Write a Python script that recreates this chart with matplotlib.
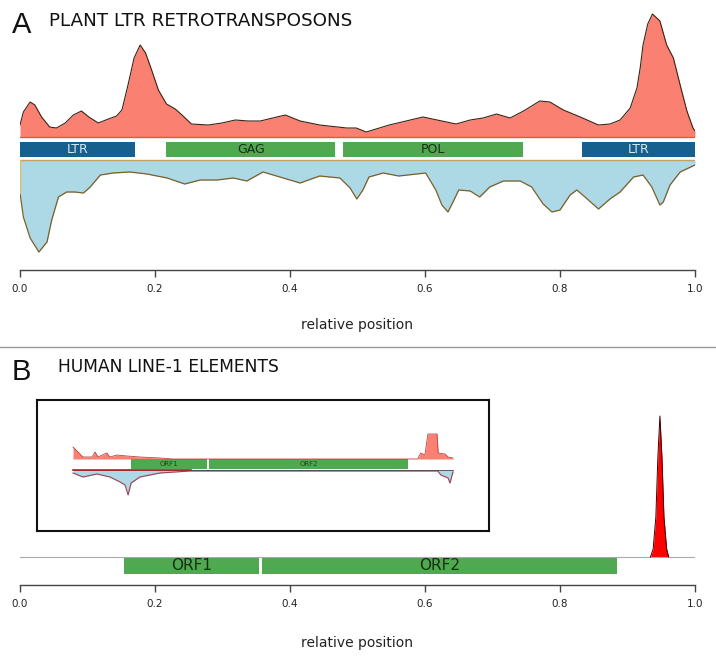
import matplotlib.pyplot as plt
from matplotlib.lines import Line2D

# panel A: density above (salmon) and below (light blue) the gene track
top_x = [0.000, 0.005, 0.015, 0.022, 0.032, 0.044, 0.054, 0.067, 0.079, 0.091,
         0.102, 0.116, 0.131, 0.143, 0.151, 0.160, 0.169, 0.178, 0.186, 0.195,
         0.205, 0.217, 0.230, 0.240, 0.254, 0.279, 0.299, 0.319, 0.338, 0.356,
         0.393, 0.415, 0.444, 0.484, 0.498, 0.513, 0.547, 0.597, 0.646, 0.667,
         0.686, 0.706, 0.726, 0.746, 0.770, 0.785, 0.805, 0.830, 0.857, 0.874,
         0.889, 0.904, 0.914, 0.919, 0.923, 0.930, 0.937, 0.948, 0.958, 0.968,
         0.978, 0.988, 0.997, 1.000]
top_y = [12, 25, 35, 32, 20, 10, 9, 14, 22, 26,
         20, 14, 18, 21, 27, 52, 79, 92, 84, 67,
         47, 33, 28, 22, 13, 12, 14, 17, 16, 16,
         22, 16, 12, 9, 9, 5, 12, 20, 13, 17,
         19, 23, 19, 26, 36, 35, 27, 20, 12, 13,
         17, 29, 49, 70, 92, 113, 123, 116, 92, 79,
         52, 26, 9, 6]

bot_x = [0.000, 0.005, 0.015, 0.028, 0.040, 0.047, 0.057, 0.069, 0.081, 0.094,
         0.104, 0.119, 0.138, 0.163, 0.188, 0.218, 0.244, 0.267, 0.292, 0.316,
         0.336, 0.360, 0.390, 0.415, 0.444, 0.474, 0.489, 0.499, 0.508, 0.517,
         0.538, 0.561, 0.601, 0.616, 0.625, 0.634, 0.643, 0.650, 0.667, 0.681,
         0.696, 0.716, 0.741, 0.758, 0.775, 0.788, 0.800, 0.815, 0.825, 0.837,
         0.857, 0.874, 0.889, 0.909, 0.923, 0.936, 0.948, 0.953, 0.963, 0.978,
         1.000]
bot_y = [33, 57, 78, 92, 82, 60, 37, 32, 32, 33,
         27, 15, 13, 12, 14, 18, 24, 20, 20, 18,
         21, 12, 18, 23, 16, 18, 28, 39, 30, 17,
         13, 16, 13, 30, 45, 52, 40, 30, 31, 37,
         27, 21, 21, 27, 44, 52, 50, 35, 30, 37,
         49, 39, 32, 17, 15, 27, 45, 42, 25, 12,
         5]

a_names = ['LTR', 'GAG', 'POL', 'LTR']
a_start = [0.000, 0.217, 0.478, 0.833]
a_end = [0.170, 0.467, 0.745, 1.000]

# panel B: main density (single spike) and ORFs
b_x = [0.000, 0.934, 0.938, 0.942, 0.945, 0.948, 0.951, 0.954, 0.958, 0.961, 1.000]
b_y = [0, 0, 8, 40, 100, 141, 100, 40, 8, 0, 0]
b_names = ['ORF1', 'ORF2']
b_start = [0.154, 0.359]
b_end = [0.354, 0.884]

# small inset plot in panel B
ins_top_x = [0.000, 0.008, 0.026, 0.050, 0.058, 0.066, 0.089, 0.097, 0.116, 0.142,
             0.176, 0.229, 0.263, 0.907, 0.915, 0.926, 0.934, 0.958, 0.961, 0.979,
             0.987, 1.000]
ins_top_y = [12, 9, 2, 2, 7, 2, 6, 2, 4, 3,
             2, 1, 0, 0, 6, 4, 25, 25, 6, 5,
             2, 1]
ins_bot_x = [0.000, 0.026, 0.063, 0.097, 0.124, 0.137, 0.145, 0.153, 0.176, 0.229,
             0.308, 0.960, 0.968, 0.987, 0.992, 1.000]
ins_bot_y = [3, 7, 4, 7, 12, 15, 25, 13, 7, 3,
             1, 1, 5, 8, 13, 2]
ins_names = ['ORF1', 'ORF2']
ins_start = [0.153, 0.358]
ins_end = [0.353, 0.882]

salmon = '#fa8072'
lightblue = '#add8e6'
blue = '#16608f'
green = '#50a850'

W, H = 716, 666
fig = plt.figure(figsize=(W / 100, H / 100), dpi=100)


def fy(py):
    return 1 - py / H


def style_axis(ax):
    for s in ['top', 'left', 'right']:
        ax.spines[s].set_visible(False)
    ax.spines['bottom'].set_color('#444444')
    ax.spines['bottom'].set_linewidth(1.0)
    ax.set_yticks([])
    ax.set_xlim(0, 1)
    ax.set_xticks([0, 0.2, 0.4, 0.6, 0.8, 1.0])
    ax.set_xticklabels(['0.0', '0.2', '0.4', '0.6', '0.8', '1.0'])
    ax.tick_params(axis='x', direction='out', length=5, width=1,
                   color='#444444', labelsize=7.5, labelcolor='#222222', pad=5)


# ---- panel A ----
axA = fig.add_axes([20 / W, fy(270), 675 / W, fy(5) - fy(270)])
style_axis(axA)
axA.set_ylim(-133, 132)
axA.fill_between(top_x, 0, top_y, color=salmon, lw=0)
axA.plot(top_x, top_y, color='#3a2418', lw=0.8)
axA.axhline(0, color='#d8602a', lw=1.0)
low = [-23 - v for v in bot_y]
axA.fill_between(bot_x, -23, low, color=lightblue, lw=0)
axA.plot(bot_x, low, color='#7a6028', lw=0.9)
axA.axhline(-23, color='#c8a060', lw=1.0)
axA.plot([0, 0], [-23, low[0]], color='#d8c060', lw=1.0)
for name, s, e in zip(a_names, a_start, a_end):
    col = blue if name == 'LTR' else green
    axA.bar((s + e) / 2, 15, width=e - s, bottom=-20, color=col, lw=0)
    tc = '#dce8f2' if name == 'LTR' else '#173017'
    axA.text((s + e) / 2, -12.5, name, ha='center', va='center',
             fontsize=9, color=tc)

fig.text(12 / W, fy(25), 'A', fontsize=21, family='Liberation Sans',
         va='center', ha='left', color='#111111')
fig.text(49 / W, fy(21), 'PLANT LTR RETROTRANSPOSONS', fontsize=13.2,
         va='center', ha='left', color='#111111')
fig.text(357 / W, fy(325), 'relative position', fontsize=10,
         ha='center', va='center', color='#222222')

# separator
fig.add_artist(Line2D([0, 1], [fy(347), fy(347)], color='#999999', lw=1.0,
                      transform=fig.transFigure))

# ---- panel B ----
axB = fig.add_axes([20 / W, fy(585), 675 / W, fy(405) - fy(585)])
style_axis(axB)
axB.set_ylim(-28, 152)
axB.plot([0, 1], [0, 0], color='#aaaaaa', lw=0.8)
axB.fill_between(b_x, 0, b_y, color='#ff0000', lw=0)
axB.plot(b_x[1:-1], b_y[1:-1], color='#3a0000', lw=0.7)
for name, s, e in zip(b_names, b_start, b_end):
    axB.bar((s + e) / 2, 16, width=e - s, bottom=-17, color=green, lw=0)
    axB.text((s + e) / 2, -9, name, ha='center', va='center',
             fontsize=11, color='#173017')

fig.text(12 / W, fy(372), 'B', fontsize=21, family='Liberation Sans',
         va='center', ha='left', color='#111111')
fig.text(58 / W, fy(367), 'HUMAN LINE-1 ELEMENTS', fontsize=12.3,
         va='center', ha='left', color='#111111')
fig.text(357 / W, fy(643), 'relative position', fontsize=10,
         ha='center', va='center', color='#222222')

# inset
axI = fig.add_axes([37 / W, fy(531), 452 / W, fy(400) - fy(531)])
axI.set_xticks([])
axI.set_yticks([])
for s in axI.spines.values():
    s.set_linewidth(1.5)
    s.set_color('#111111')
axI.set_xlim(-36 / 380, 416 / 380)
axI.set_ylim(-72, 59)
axI.fill_between(ins_top_x, 0, ins_top_y, color=salmon, lw=0)
axI.plot(ins_top_x, ins_top_y, color='#c04040', lw=0.6)
ilow = [-11 - v for v in ins_bot_y]
axI.fill_between(ins_bot_x, -11, ilow, color=lightblue, lw=0)
axI.plot(ins_bot_x, ilow, color='#a04050', lw=0.8)
axI.plot([0, 1], [-11, -11], color='#444444', lw=0.6)
axI.plot([0, 0.31], [-11, -11], color='#b02020', lw=1.2)
for name, s, e in zip(ins_names, ins_start, ins_end):
    axI.bar((s + e) / 2, 10, width=e - s, bottom=-10, color=green, lw=0)
    axI.text((s + e) / 2, -5, name, ha='center', va='center',
             fontsize=5, color='#224422')

fig.savefig('out.png', dpi=100)
